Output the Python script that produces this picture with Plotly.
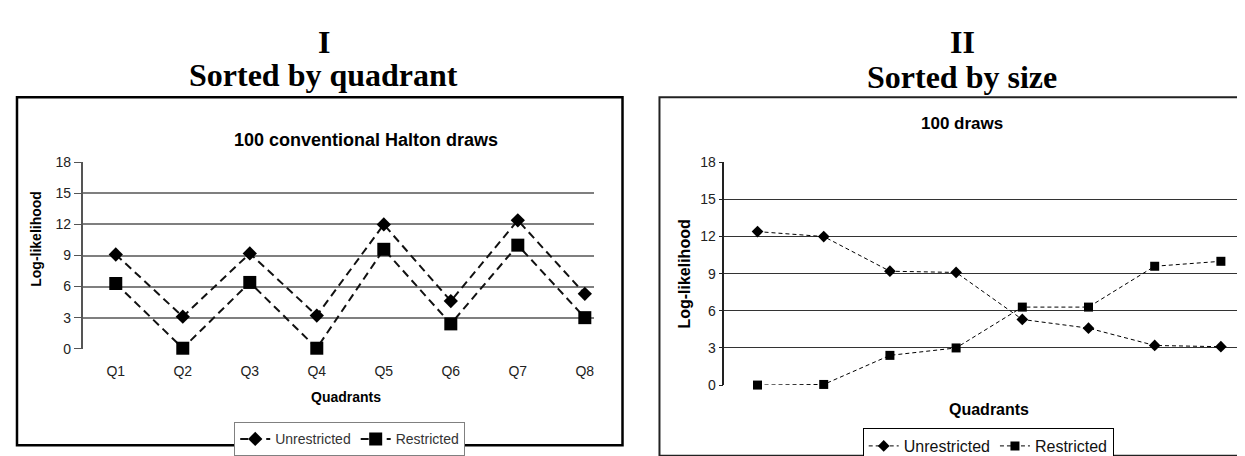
import plotly.graph_objects as go

# ---------------- data ----------------
quadrants = ["Q1", "Q2", "Q3", "Q4", "Q5", "Q6", "Q7", "Q8"]
unrestricted_by_quadrant = [9.1, 3.1, 9.2, 3.2, 12.0, 4.6, 12.4, 5.3]
restricted_by_quadrant = [6.3, 0.05, 6.4, 0.05, 9.6, 2.4, 10.0, 3.0]

size_rank = [1, 2, 3, 4, 5, 6, 7, 8]
unrestricted_by_size = [12.4, 12.0, 9.2, 9.1, 5.3, 4.6, 3.2, 3.1]
restricted_by_size = [0.0, 0.05, 2.4, 3.0, 6.3, 6.3, 9.6, 10.0]

y_ticks = [0, 3, 6, 9, 12, 15, 18]

W, H = 1245, 456
SANS = "Liberation Sans, Arial, sans-serif"
SERIF = "Liberation Serif, Times New Roman, serif"


def px(x):
    return x / W


def py(y):
    return 1 - y / H


fig = go.Figure()

# ---------------- left chart ----------------
fig.add_trace(go.Scatter(
    x=quadrants, y=unrestricted_by_quadrant, name="Unrestricted",
    mode="lines+markers", xaxis="x", yaxis="y", legend="legend",
    line=dict(color="#111111", width=2, dash="8px,5px"),
    marker=dict(symbol="diamond", size=11, color="#000000"),
    cliponaxis=False,
))
fig.add_trace(go.Scatter(
    x=quadrants, y=restricted_by_quadrant, name="Restricted",
    mode="lines+markers", xaxis="x", yaxis="y", legend="legend",
    line=dict(color="#111111", width=2, dash="8px,5px"),
    marker=dict(symbol="square", size=13, color="#000000"),
    cliponaxis=False,
))

# ---------------- right chart ----------------
fig.add_trace(go.Scatter(
    x=size_rank, y=unrestricted_by_size, name="Unrestricted",
    mode="lines+markers", xaxis="x2", yaxis="y2", legend="legend2",
    line=dict(color="#000000", width=1, dash="4px,3px"),
    marker=dict(symbol="diamond", size=9, color="#000000"),
    cliponaxis=False,
))
fig.add_trace(go.Scatter(
    x=size_rank, y=restricted_by_size, name="Restricted",
    mode="lines+markers", xaxis="x2", yaxis="y2", legend="legend2",
    line=dict(color="#000000", width=1, dash="4px,3px"),
    marker=dict(symbol="square", size=9, color="#000000"),
    cliponaxis=False,
))

fig.update_layout(
    width=W, height=H,
    margin=dict(l=0, r=0, t=0, b=0),
    paper_bgcolor="white", plot_bgcolor="white",
    font=dict(family=SANS, color="#000000"),
    xaxis=dict(
        domain=[px(75), px(586)], range=[-0.49, 7.13],
        type="category", showgrid=False, zeroline=False,
        showline=False, ticks="", ticklabelstandoff=12,
        tickfont=dict(size=14, color="#222222", family=SANS),
        anchor="y", fixedrange=True,
    ),
    yaxis=dict(
        domain=[py(348), py(153)], range=[0, 18],
        tickvals=y_ticks, showgrid=True, gridcolor="#7f7f7f", gridwidth=2,
        zeroline=False, showline=True, linecolor="#555555", linewidth=2,
        ticks="outside", ticklen=7, tickcolor="#555555", tickwidth=1,
        tickfont=dict(size=14, color="#222222", family=SANS),
        anchor="x", fixedrange=True,
    ),
    xaxis2=dict(
        domain=[px(717), 1.0], range=[0.5, 8.47],
        showgrid=False, zeroline=False, showline=False,
        showticklabels=False, ticks="",
        anchor="y2", fixedrange=True,
    ),
    yaxis2=dict(
        domain=[py(386), py(153)], range=[0, 18],
        tickvals=y_ticks, showgrid=True, gridcolor="#333333", gridwidth=1,
        zeroline=False, showline=True, linecolor="#222222", linewidth=1.5,
        ticks="outside", ticklen=4, tickcolor="#222222", tickwidth=1,
        tickfont=dict(size=14, color="#222222", family=SANS),
        anchor="x2", fixedrange=True,
    ),
    legend=dict(
        orientation="h", x=px(342), xanchor="center", y=py(425), yanchor="top",
        bordercolor="#808080", borderwidth=1, bgcolor="white",
        font=dict(size=14, color="#333333", family=SANS),
        itemwidth=30, tracegroupgap=0,
    ),
    legend2=dict(
        orientation="h", x=px(981), xanchor="center", y=py(431), yanchor="top",
        bordercolor="#000000", borderwidth=1, bgcolor="white",
        font=dict(size=16, color="#111111", family=SANS),
        itemwidth=30, tracegroupgap=0,
    ),
    showlegend=True,
)

# Boxes around the charts
fig.add_shape(type="rect", xref="paper", yref="paper",
              x0=px(9), x1=px(615), y0=py(449), y1=py(85),
              line=dict(color="#000000", width=2.5), layer="below")
fig.add_shape(type="rect", xref="paper", yref="paper",
              x0=px(652), x1=px(1250), y0=py(460), y1=py(85),
              line=dict(color="#222222", width=2), layer="below")

annotations = [
    # Big titles
    dict(text="<b>I</b>", x=px(316), y=py(27), font=dict(family=SERIF, size=32)),
    dict(text="<b>Sorted by quadrant</b>", x=px(316), y=py(62), font=dict(family=SERIF, size=32)),
    dict(text="<b>II</b>", x=px(955), y=py(27), font=dict(family=SERIF, size=32)),
    dict(text="<b>Sorted by size</b>", x=px(955), y=py(64), font=dict(family=SERIF, size=32)),
    # Chart subtitles
    dict(text="<b>100 conventional Halton draws</b>", x=px(358), y=py(130),
         font=dict(family=SANS, size=18)),
    dict(text="<b>100 draws</b>", x=px(955), y=py(112), font=dict(family=SANS, size=17)),
    # Axis titles
    dict(text="<b>Quadrants</b>", x=px(338), y=py(398), font=dict(family=SANS, size=14)),
    dict(text="<b>Quadrants</b>", x=px(982), y=py(412), font=dict(family=SANS, size=16)),
    dict(text="<b>Log-likelihood</b>", x=px(28), y=py(233), textangle=-90,
         font=dict(family=SANS, size=14)),
    dict(text="<b>Log-likelihood</b>", x=px(677), y=py(270), textangle=-90,
         font=dict(family=SANS, size=16)),
]
for a in annotations:
    a.update(xref="paper", yref="paper", showarrow=False,
             xanchor="center", yanchor="middle")
    a["font"].setdefault("color", "#000000")
fig.update_layout(annotations=annotations)

fig.write_html("out.html")
